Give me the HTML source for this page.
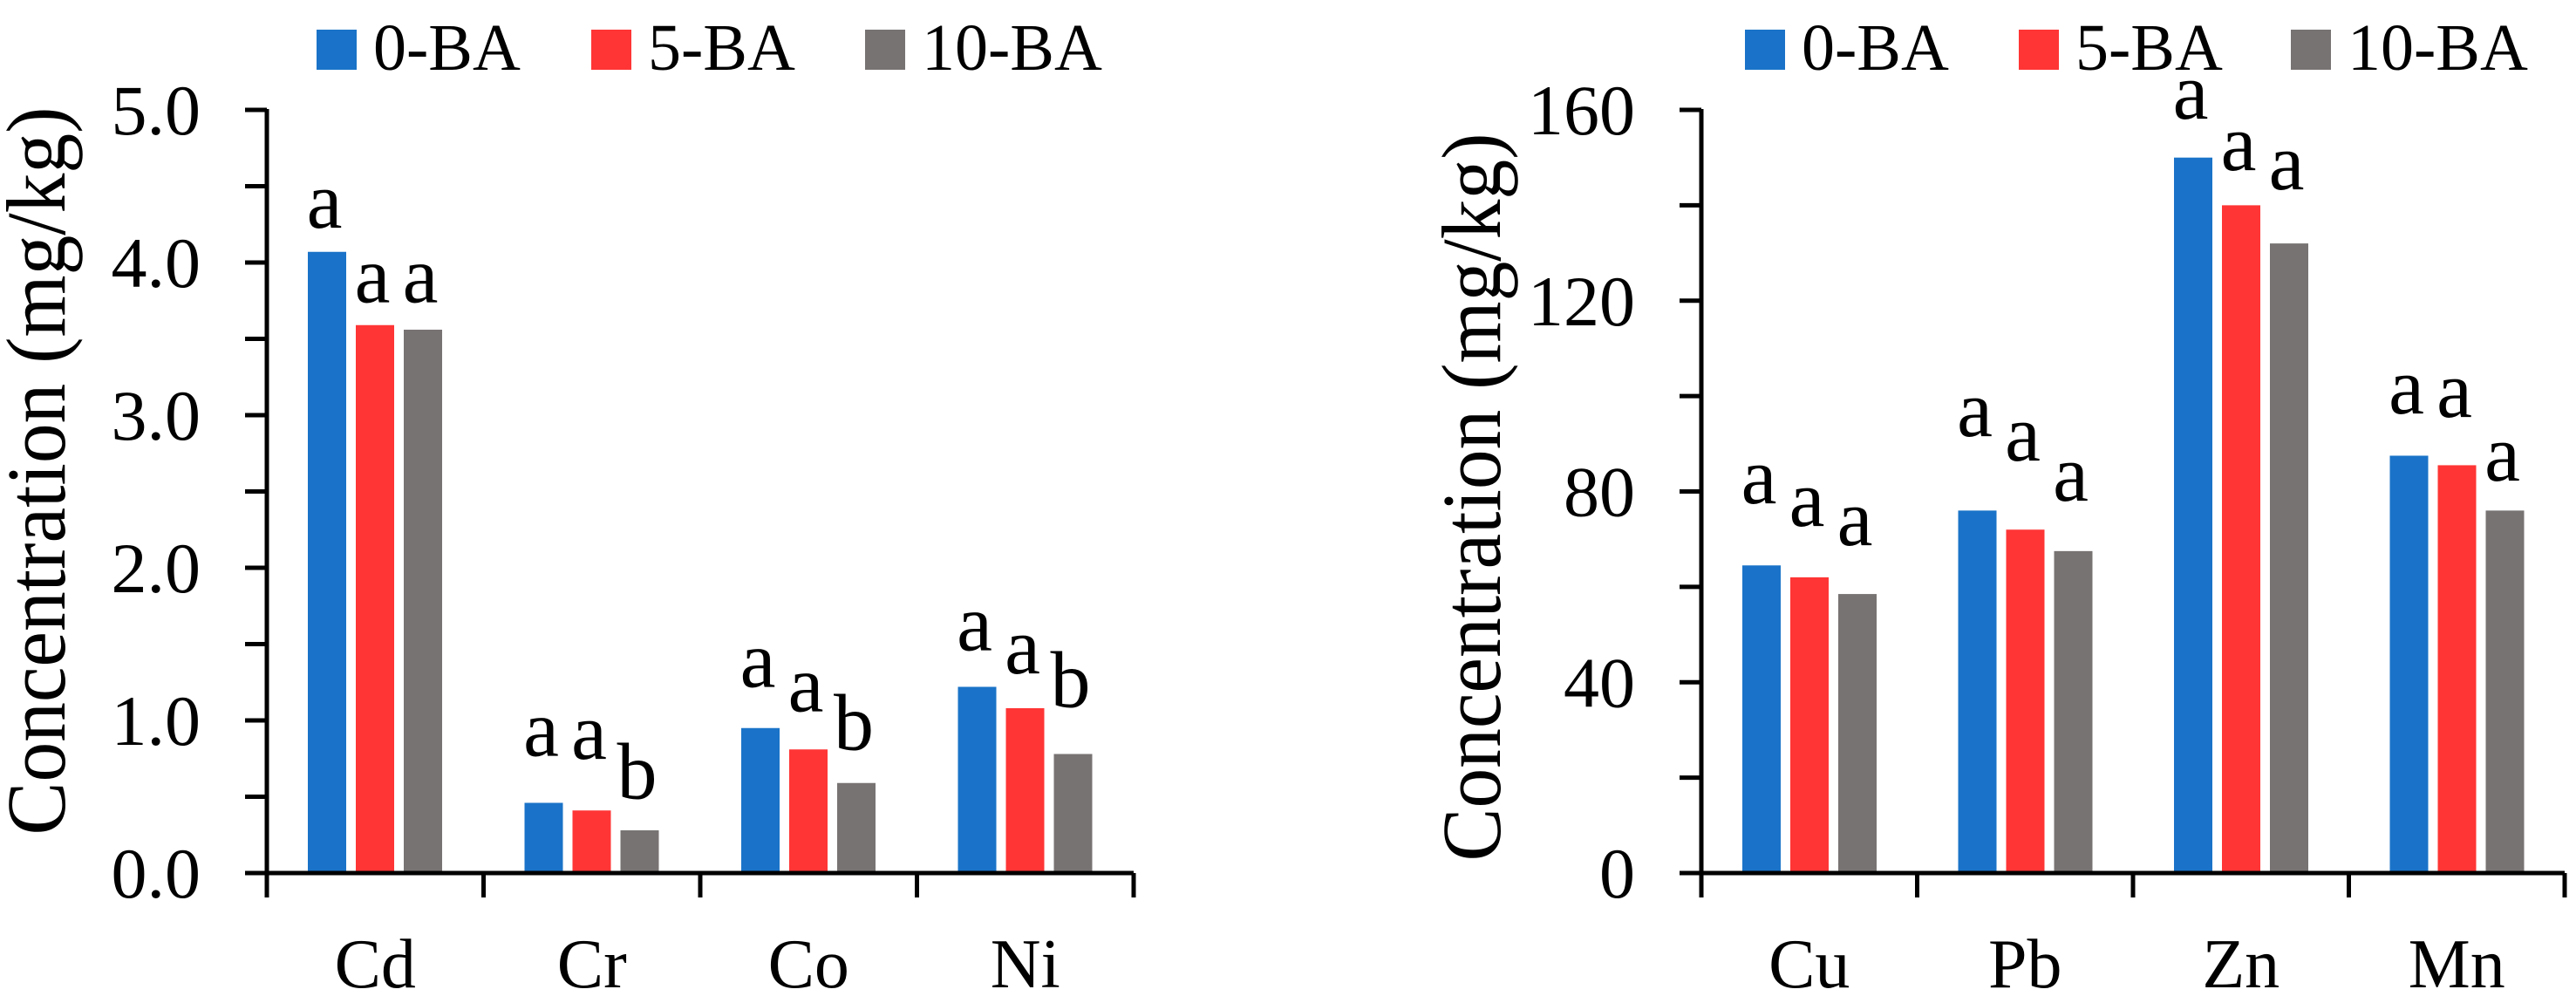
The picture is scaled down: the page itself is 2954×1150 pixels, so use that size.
<!DOCTYPE html>
<html><head><meta charset="utf-8"><style>
html,body{margin:0;padding:0;background:#fff;}
svg{display:block;}
text{font-family:"Liberation Serif",serif;fill:#000;}
</style></head><body>
<svg id="chart" width="2954" height="1150" viewBox="0 0 2954 1150" xmlns="http://www.w3.org/2000/svg"></svg>
<script>
const seriesNames = ["0-BA","5-BA","10-BA"];
const colors = ["#1a73c8","#ff3535","#787373"];
const leftCategories = ["Cd","Cr","Co","Ni"];
const leftValues0 = [4.07,0.46,0.95,1.22];
const leftValues5 = [3.59,0.41,0.81,1.08];
const leftValues10 = [3.56,0.28,0.59,0.78];
const leftLetters0 = ["a","a","a","a"];
const leftLetters5 = ["a","a","a","a"];
const leftLetters10 = ["a","b","b","b"];
const leftLetterPos0 = [4.23,0.77,1.22,1.46];
const leftLetterPos5 = [3.74,0.75,1.06,1.31];
const leftLetterPos10 = [3.74,0.49,0.81,1.09];
const leftTicks = ["0.0","1.0","2.0","3.0","4.0","5.0"];
const rightCategories = ["Cu","Pb","Zn","Mn"];
const rightValues0 = [64.5,76,150,87.5];
const rightValues5 = [62,72,140,85.5];
const rightValues10 = [58.5,67.5,132,76];
const rightLetters0 = ["a","a","a","a"];
const rightLetters5 = ["a","a","a","a"];
const rightLetters10 = ["a","a","a","a"];
const rightLetterPos0 = [77.5,91.6,158.2,96.4];
const rightLetterPos5 = [72.8,86.5,147.4,95.6];
const rightLetterPos10 = [68.8,78.1,143.4,82.3];
const rightTicks = ["0","40","80","120","160"];

const NS="http://www.w3.org/2000/svg";
const svg=document.getElementById('chart');
function mk(tag,attrs,parent){const e=document.createElementNS(NS,tag);for(const k in attrs)e.setAttribute(k,attrs[k]);(parent||svg).appendChild(e);return e;}

function drawPanel(p){
  const g=mk('g',{});
  
  
  const y0=1001, yTop=126;
  const yScale=v=>y0-(v/p.max)*(y0-yTop);
  const groupW=(p.x1-p.x0)/p.cats.length;
  const xBar=(ci,si)=>p.x0+ci*groupW+47+si*55;
  const vals=[p.v0,p.v5,p.v10], lets=[p.l0,p.l5,p.l10], lpos=[p.lp0,p.lp5,p.lp10];
  for(let ci=0;ci<p.cats.length;ci++){
    for(let si=0;si<3;si++){
      const v=vals[si][ci];
      const r=mk('rect',{x:xBar(ci,si),y:yScale(v),width:44,height:y0-yScale(v),fill:colors[si]},g);
      
      
      const t=mk('text',{x:xBar(ci,si)+19,y:yScale(lpos[si][ci]),'font-size':92,'text-anchor':'middle'},g);
      t.textContent=lets[si][ci];
      
      
    }
    const cl=mk('text',{x:p.x0+groupW*(ci+0.5),y:1132,'font-size':80,'text-anchor':'middle'},g);
    cl.textContent=p.cats[ci];
    
    
  }
  const ya=mk('line',{x1:p.x0,y1:yTop-1,x2:p.x0,y2:y0+28,stroke:'#000','stroke-width':5},g);
  
  
  const xa=mk('line',{x1:p.x0-25,y1:y0,x2:p.x1,y2:y0,stroke:'#000','stroke-width':5},g);
  
  
  for(let i=0;i<=p.cats.length;i++){
    const x=p.x0+i*groupW;
    mk('line',{x1:x,y1:y0,x2:x,y2:y0+28,stroke:'#000','stroke-width':5},g);
  }
  const nMinor=(p.ticks.length-1)*2;
  for(let i=0;i<=nMinor;i++){
    const y=y0-(i/nMinor)*(y0-yTop);
    mk('line',{x1:p.x0-25,y1:y,x2:p.x0,y2:y,stroke:'#000','stroke-width':5},g);
  }
  p.ticks.forEach((tk,i)=>{
    const y=yScale(parseFloat(tk));
    const t=mk('text',{x:p.x0-76,y:y+28,'font-size':82,'text-anchor':'end'},g);
    t.textContent=tk;
    
    
  });
  const yt=mk('text',{x:0,y:0,'font-size':96,'text-anchor':'middle',transform:`translate(${p.titleX},${p.titleY}) rotate(-90)`,textLength:835,lengthAdjust:'spacingAndGlyphs'},g);
  yt.textContent='Concentration (mg/kg)';
  
  
  for(let si=0;si<3;si++){
    const bx=p.legX[si];
    const r=mk('rect',{x:bx,y:34,width:46,height:46,fill:colors[si]},g);
    
    
    const t=mk('text',{x:bx+65,y:80,'font-size':76},g);
    t.textContent=seriesNames[si];
    
    
  }
}
drawPanel({name:'left-chart',x0:306,x1:1300,max:5,cats:leftCategories,v0:leftValues0,v5:leftValues5,v10:leftValues10,
  l0:leftLetters0,l5:leftLetters5,l10:leftLetters10,lp0:leftLetterPos0,lp5:leftLetterPos5,lp10:leftLetterPos10,
  ticks:leftTicks,titleX:74,titleY:540,legX:[363,678,992]});
drawPanel({name:'right-chart',x0:1951,x1:2941,max:160,cats:rightCategories,v0:rightValues0,v5:rightValues5,v10:rightValues10,
  l0:rightLetters0,l5:rightLetters5,l10:rightLetters10,lp0:rightLetterPos0,lp5:rightLetterPos5,lp10:rightLetterPos10,
  ticks:rightTicks,titleX:1720,titleY:570,legX:[2001,2315,2627]});
</script>
</body></html>
